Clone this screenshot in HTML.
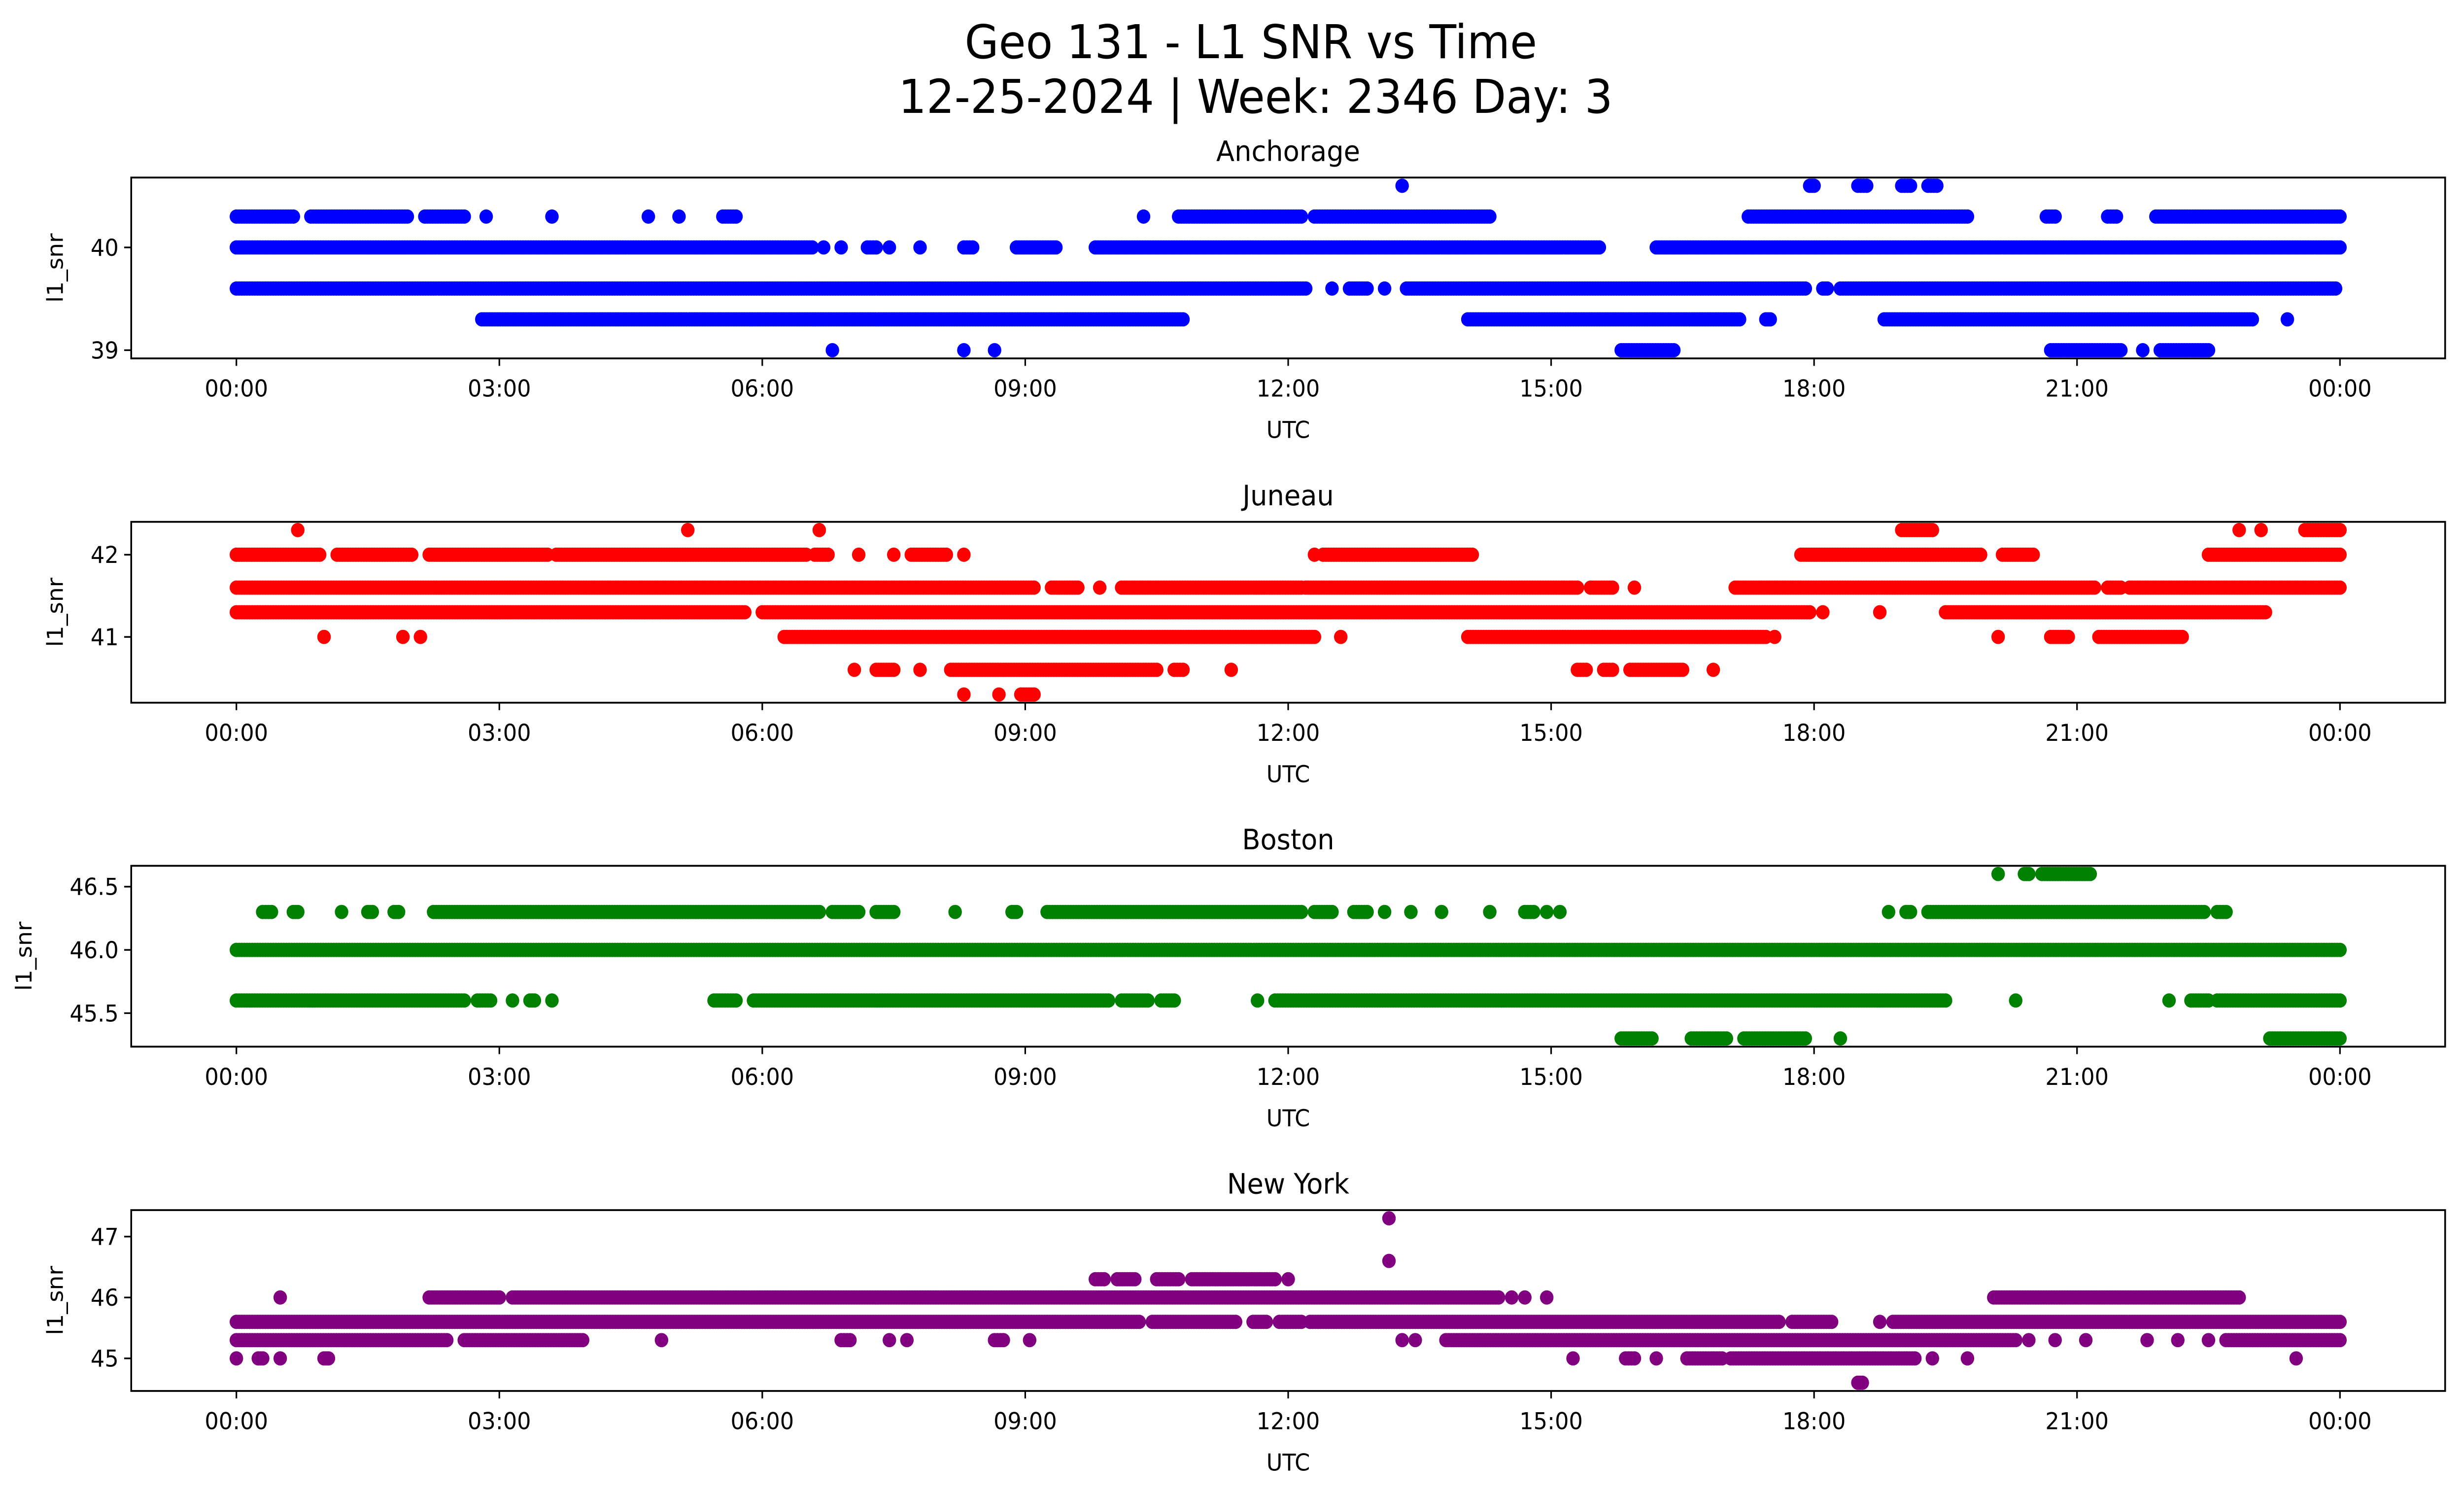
<!DOCTYPE html>
<html><head><meta charset="utf-8">
<style>
html,body{margin:0;padding:0;background:#fff;width:100vw;height:100vh;overflow:hidden;}
svg{display:block;position:absolute;left:0;top:0;width:100vw;height:100vh;}
text{font-family:"DejaVu Sans","Liberation Sans",sans-serif;fill:#000;}
</style></head>
<body>
<svg id="fig" xmlns="http://www.w3.org/2000/svg" viewBox="0 0 1568 901" preserveAspectRatio="none">
<rect x="0" y="0" width="1568" height="901" fill="#fff"/>
<text x="796" y="35" font-size="28" text-anchor="middle">Geo 131 - L1 SNR vs Time</text>
<text x="799" y="68" font-size="28" text-anchor="middle">12-25-2024 | Week: 2346 Day: 3</text>
</svg>
<script>
// Runs: [snr level, start hour, end hour]
const anchorageRuns = [
[40.6,13.3,13.3],[40.6,17.95,18.0],[40.6,18.5,18.6],[40.6,19.0,19.1],[40.6,19.3,19.4],
[40.3,0,0.65],[40.3,0.85,1.95],[40.3,2.15,2.6],[40.3,2.85,2.85],[40.3,3.6,3.6],[40.3,4.7,4.7],[40.3,5.05,5.05],[40.3,5.55,5.7],[40.3,10.35,10.35],[40.3,10.75,12.15],[40.3,12.3,14.3],[40.3,17.25,19.75],[40.3,20.65,20.75],[40.3,21.35,21.45],[40.3,21.9,24],
[40.0,0,6.57],[40.0,6.7,6.7],[40.0,6.9,6.9],[40.0,7.2,7.3],[40.0,7.45,7.45],[40.0,7.8,7.8],[40.0,8.3,8.4],[40.0,8.9,9.35],[40.0,9.8,15.55],[40.0,16.2,24],
[39.6,0,12.2],[39.6,12.5,12.5],[39.6,12.7,12.9],[39.6,13.1,13.1],[39.6,13.35,17.9],[39.6,18.1,18.15],[39.6,18.3,23.95],
[39.3,2.8,10.8],[39.3,14.05,17.15],[39.3,17.45,17.5],[39.3,18.8,23.0],[39.3,23.4,23.4],
[39.0,6.8,6.8],[39.0,8.3,8.3],[39.0,8.65,8.65],[39.0,15.8,16.4],[39.0,20.7,21.5],[39.0,21.75,21.75],[39.0,21.95,22.5]
];
const juneauRuns = [
[42.3,0.7,0.7],[42.3,5.15,5.15],[42.3,6.65,6.65],[42.3,19.0,19.35],[42.3,22.85,22.85],[42.3,23.1,23.1],[42.3,23.6,24],
[42.0,0,0.95],[42.0,1.15,2.0],[42.0,2.2,3.55],[42.0,3.65,6.5],[42.0,6.6,6.75],[42.0,7.1,7.1],[42.0,7.5,7.5],[42.0,7.7,8.1],[42.0,8.3,8.3],[42.0,12.3,12.3],[42.0,12.4,14.1],[42.0,17.85,19.9],[42.0,20.15,20.5],[42.0,22.5,24],
[41.6,0,9.1],[41.6,9.3,9.6],[41.6,9.85,9.85],[41.6,10.1,12.15],[41.6,12.2,15.3],[41.6,15.45,15.7],[41.6,15.95,15.95],[41.6,17.1,21.2],[41.6,21.35,21.5],[41.6,21.6,24],
[41.3,0,5.8],[41.3,6.0,17.95],[41.3,18.1,18.1],[41.3,18.75,18.75],[41.3,19.5,23.15],
[41.0,1.0,1.0],[41.0,1.9,1.9],[41.0,2.1,2.1],[41.0,6.25,12.3],[41.0,12.6,12.6],[41.0,14.05,17.45],[41.0,17.55,17.55],[41.0,20.1,20.1],[41.0,20.7,20.9],[41.0,21.25,22.2],
[40.6,7.05,7.05],[40.6,7.3,7.5],[40.6,7.8,7.8],[40.6,8.15,10.5],[40.6,10.7,10.8],[40.6,11.35,11.35],[40.6,15.3,15.4],[40.6,15.6,15.7],[40.6,15.9,16.5],[40.6,16.85,16.85],
[40.3,8.3,8.3],[40.3,8.7,8.7],[40.3,8.95,9.1]
];
const bostonRuns = [
[46.6,20.1,20.1],[46.6,20.4,20.45],[46.6,20.6,21.15],
[46.3,0.3,0.4],[46.3,0.65,0.7],[46.3,1.2,1.2],[46.3,1.5,1.55],[46.3,1.8,1.85],[46.3,2.25,6.65],[46.3,6.8,7.1],[46.3,7.3,7.5],[46.3,8.2,8.2],[46.3,8.85,8.9],[46.3,9.25,12.15],[46.3,12.3,12.5],[46.3,12.75,12.9],[46.3,13.1,13.1],[46.3,13.4,13.4],[46.3,13.75,13.75],[46.3,14.3,14.3],[46.3,14.7,14.8],[46.3,14.95,14.95],[46.3,15.1,15.1],[46.3,18.85,18.85],[46.3,19.05,19.1],[46.3,19.3,22.45],[46.3,22.6,22.7],
[46.0,0,24],
[45.6,0,2.6],[45.6,2.75,2.9],[45.6,3.15,3.15],[45.6,3.35,3.4],[45.6,3.6,3.6],[45.6,5.45,5.7],[45.6,5.9,9.95],[45.6,10.1,10.4],[45.6,10.55,10.7],[45.6,11.65,11.65],[45.6,11.85,19.5],[45.6,20.3,20.3],[45.6,22.05,22.05],[45.6,22.3,22.5],[45.6,22.6,24],
[45.3,15.8,16.15],[45.3,16.6,17.0],[45.3,17.2,17.9],[45.3,18.3,18.3],[45.3,23.2,24]
];
const newYorkRuns = [
[47.3,13.15,13.15],[46.6,13.15,13.15],
[46.3,9.8,9.9],[46.3,10.05,10.25],[46.3,10.5,10.75],[46.3,10.9,11.85],[46.3,12.0,12.0],
[46.0,0.5,0.5],[46.0,2.2,3.0],[46.0,3.15,14.4],[46.0,14.55,14.55],[46.0,14.7,14.7],[46.0,14.95,14.95],[46.0,20.05,22.85],
[45.6,0,10.3],[45.6,10.45,11.4],[45.6,11.6,11.75],[45.6,11.9,12.15],[45.6,12.25,17.6],[45.6,17.75,18.2],[45.6,18.75,18.75],[45.6,18.9,24],
[45.3,0,2.4],[45.3,2.6,3.95],[45.3,4.85,4.85],[45.3,6.9,7.0],[45.3,7.45,7.45],[45.3,7.65,7.65],[45.3,8.65,8.75],[45.3,9.05,9.05],[45.3,13.3,13.3],[45.3,13.45,13.45],[45.3,13.8,20.3],[45.3,20.45,20.45],[45.3,20.75,20.75],[45.3,21.1,21.1],[45.3,21.8,21.8],[45.3,22.15,22.15],[45.3,22.5,22.5],[45.3,22.7,24],
[45.0,0,0],[45.0,0.25,0.3],[45.0,0.5,0.5],[45.0,1.0,1.05],[45.0,15.25,15.25],[45.0,15.85,15.95],[45.0,16.2,16.2],[45.0,16.55,16.95],[45.0,17.05,19.15],[45.0,19.35,19.35],[45.0,19.75,19.75],[45.0,23.5,23.5],
[44.6,18.5,18.55]
];
const panelTitles = ["Anchorage","Juneau","Boston","New York"];
const panelColors = ["#0000ff","#ff0000","#008000","#800080"];
const panelYTicks = [[39,40],[41,42],[45.5,46.0,46.5],[45,46,47]];
const panelYTickLabels = [["39","40"],["41","42"],["45.5","46.0","46.5"],["45","46","47"]];
const xTickHours = [0,3,6,9,12,15,18,21,24];
const xTickLabels = ["00:00","03:00","06:00","09:00","12:00","15:00","18:00","21:00","00:00"];

const NS = "http://www.w3.org/2000/svg";
const svg = document.getElementById('fig');
function mk(tag, attrs, parent){
  const e = document.createElementNS(NS, tag);
  for (const k in attrs) e.setAttribute(k, attrs[k]);
  (parent||svg).appendChild(e);
  return e;
}
const allRuns = [anchorageRuns, juneauRuns, bostonRuns, newYorkRuns];
const AX_L = 83.5, AX_R = 1556, AX_H = 109;
const tops = [107, 314.5, 521.8, 729.3];
const ylabX = [40, 40, 20, 40];
const STEP = 0.03;

allRuns.forEach((runs, p) => {
  const top = tops[p], bot = top + AX_H;
  const g = mk('g', {});
  
  
  let lo = Infinity, hi = -Infinity;
  runs.forEach(r => { lo = Math.min(lo, r[0]); hi = Math.max(hi, r[0]); });
  const yr = hi - lo; const y0 = lo - 0.05*yr, y1 = hi + 0.05*yr;
  const x0 = -1.2, x1 = 25.2;
  const xs = h => AX_L + (h - x0) / (x1 - x0) * (AX_R - AX_L);
  const ys = v => bot - (v - y0) / (y1 - y0) * AX_H;
  const pg = mk('g', {fill: panelColors[p]}, g);
  
  
  runs.forEach(r => {
    const n = Math.max(0, Math.round((r[2] - r[1]) / STEP));
    for (let i = 0; i <= n; i++) {
      const h = n === 0 ? r[1] : r[1] + (r[2] - r[1]) * i / n;
      const c = mk('circle', {cx: xs(h).toFixed(2), cy: ys(r[0]).toFixed(2), r: 4.3}, pg);
      
      
    }
  });
  const fr = mk('rect', {x: AX_L, y: top, width: AX_R - AX_L, height: AX_H, fill: 'none', stroke: '#000', 'stroke-width': 1.1}, g);
  
  
  xTickHours.forEach((h, i) => {
    const x = xs(h);
    mk('line', {x1: x, x2: x, y1: bot, y2: bot + 4.5, stroke: '#000', 'stroke-width': 1}, g);
    const t = mk('text', {x: x, y: bot + 23, 'font-size': 14, 'text-anchor': 'middle'}, g);
    t.textContent = xTickLabels[i];
    
    
  });
  panelYTicks[p].forEach((v, i) => {
    const y = ys(v);
    mk('line', {x1: AX_L - 4.5, x2: AX_L, y1: y, y2: y, stroke: '#000', 'stroke-width': 1}, g);
    const t = mk('text', {x: AX_L - 8, y: y + 5, 'font-size': 14, 'text-anchor': 'end'}, g);
    t.textContent = panelYTickLabels[p][i];
    
    
  });
  const tt = mk('text', {x: (AX_L + AX_R) / 2, y: top - 10, 'font-size': 17, 'text-anchor': 'middle'}, g);
  tt.textContent = panelTitles[p];
  
  
  const xl = mk('text', {x: (AX_L + AX_R) / 2, y: bot + 48, 'font-size': 14, 'text-anchor': 'middle'}, g);
  xl.textContent = 'UTC';
  
  
  const cy = top + AX_H / 2;
  const yl = mk('text', {x: ylabX[p], y: cy, 'font-size': 14, 'text-anchor': 'middle', transform: 'rotate(-90 ' + ylabX[p] + ' ' + cy + ')'}, g);
  yl.textContent = 'l1_snr';
  
  
});
</script>
</body></html>
